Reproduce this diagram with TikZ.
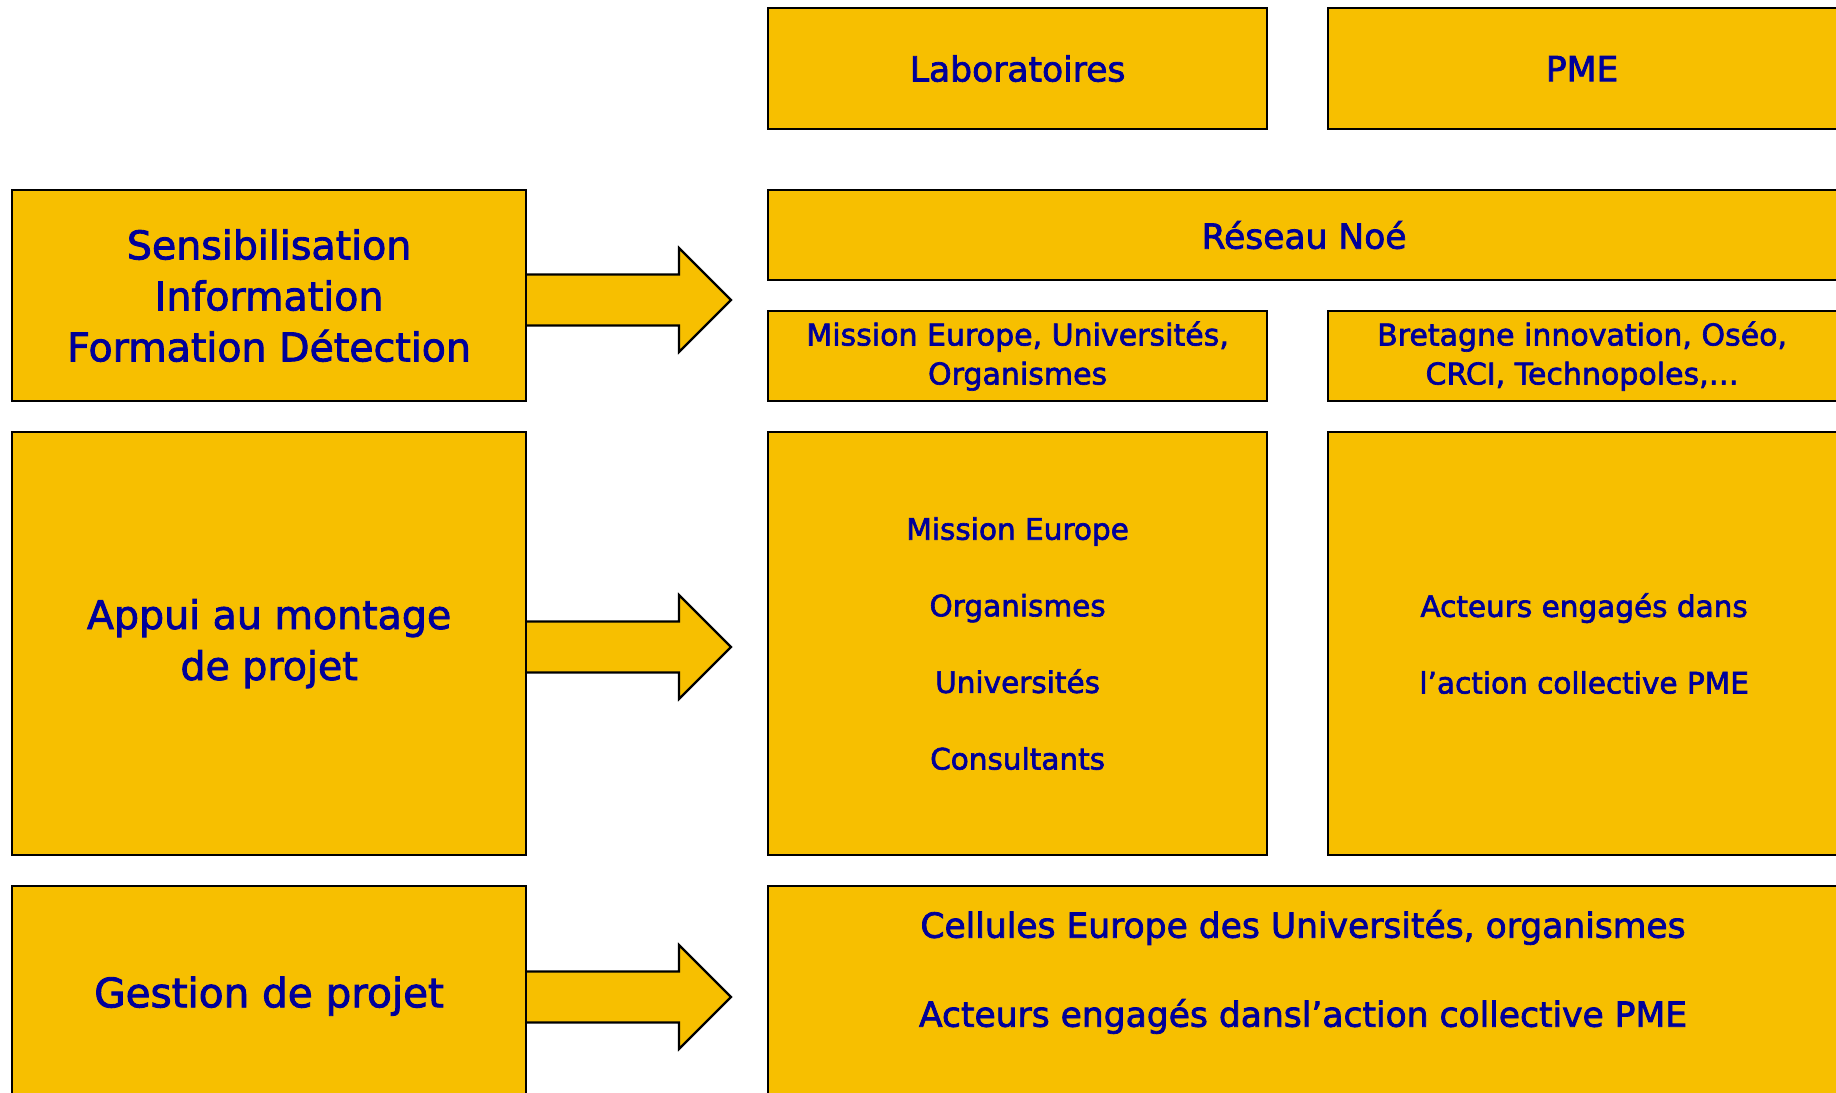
\documentclass[tikz,border=0pt]{standalone}
\usepackage{fontspec}
\setmainfont{DejaVu Sans}[BoldFont={DejaVu Sans}, BoldFeatures={FakeBold=2.2}]

\definecolor{boxyellow}{RGB}{247,191,0}
\definecolor{textblue}{RGB}{0,0,153}

\tikzset{
  box/.style={draw=black, fill=boxyellow, line width=2.2pt, text=textblue,
    align=center, inner sep=0pt, anchor=north west},
  boxtext/.style={text=textblue, align=center, inner sep=0pt},
  bigarrow/.style={draw=black, fill=boxyellow, line width=2.2pt, line join=miter},
  bigfont/.style={font=\bfseries\fontsize{39.5}{51}\selectfont},
  headfont/.style={font=\bfseries\fontsize{34.5}{40}\selectfont},
  smallfont/.style={font=\bfseries\fontsize{30}{39}\selectfont},
  listfont/.style={font=\bfseries\fontsize{29.5}{76.6}\selectfont},
}

\begin{document}
\begin{tikzpicture}[x=1pt, y=-1pt]
  \useasboundingbox (0,0) rectangle (1836,1092);

  % arrows, under the boxes
  \foreach \y in {300,647,997}
    \draw[bigarrow] (520,\y-25.5) -- (679,\y-25.5) -- (679,\y-52) -- (731,\y)
      -- (679,\y+52) -- (679,\y+25.5) -- (520,\y+25.5);

  % top row
  \node[box, headfont, minimum width=499, minimum height=121] (labo) at (767,7) {Laboratoires};
  \node[box, minimum width=540, minimum height=121] (pme) at (1327,7) {};
  \node[boxtext, headfont] (pmetext) at ([xshift=-16]pme.center) {PME};

  % sensibilisation
  \node[box, bigfont, minimum width=514, minimum height=211] (sensib) at (11,189)
    {Sensibilisation\\Information\\Formation Détection};
  \node[box, minimum width=1100, minimum height=90] (noe) at (767,189) {};
  \node[boxtext, headfont] (noetext) at ([xshift=-14]noe.center) {Réseau Noé};
  \node[box, smallfont, minimum width=499, minimum height=90] (mission) at (767,310)
    {Mission Europe, Universités,\\Organismes};
  \node[box, minimum width=540, minimum height=90] (bretagne) at (1327,310) {};
  \node[boxtext, smallfont] (bretagnetext) at ([xshift=-16]bretagne.center)
    {Bretagne innovation, Oséo,\\CRCI, Technopoles,…};

  % montage
  \node[box, bigfont, minimum width=514, minimum height=423] (appui) at (11,431)
    {Appui au montage\\de projet};
  \node[box, listfont, minimum width=499, minimum height=423] (acteurslabo) at (767,431)
    {Mission Europe\\Organismes\\Universités\\Consultants};
  \node[box, minimum width=540, minimum height=423] (acteurspme) at (1327,431) {};
  \node[boxtext, listfont] (acteurstext) at ([xshift=-14]acteurspme.center)
    {Acteurs engagés dans\\l’action collective PME};

  % gestion
  \node[box, font=\bfseries\fontsize{40.5}{51}\selectfont, minimum width=514, minimum height=220] (gestion) at (11,885)
    {Gestion de projet};
  \node[box, minimum width=1100, minimum height=220] (cellules) at (767,885) {};
  \node[boxtext, font=\bfseries\fontsize{34.5}{89}\selectfont] (celltext) at (1303,972)
    {Cellules Europe des Universités, organismes\\Acteurs engagés dansl’action collective PME};
\end{tikzpicture}
\end{document}
